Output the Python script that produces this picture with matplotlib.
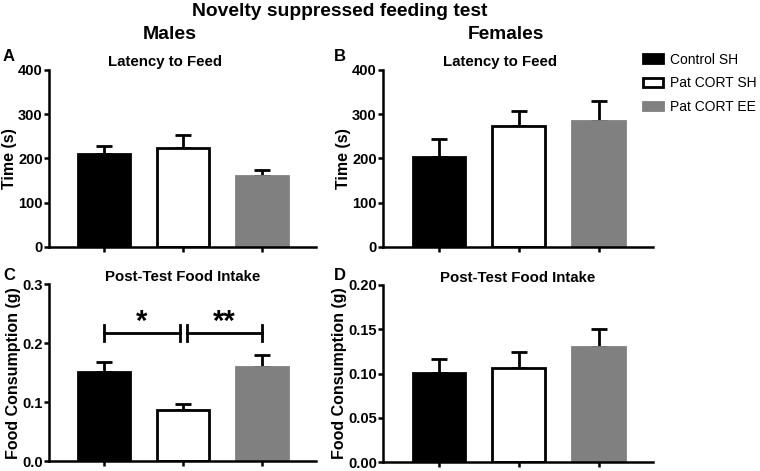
import matplotlib.pyplot as plt

plt.rcParams['font.family'] = ['Liberation Sans', 'DejaVu Sans']
plt.rcParams['font.weight'] = 'bold'

groups = ["Control SH", "Pat CORT SH", "Pat CORT EE"]
face_colors = ["black", "white", "#808080"]
edge_colors = ["black", "black", "#808080"]

# means and SEM (upper error only)
male_latency = [210, 224, 160]
male_latency_err = [19, 28, 14]
female_latency = [203, 273, 285]
female_latency_err = [42, 35, 45]
male_food = [0.152, 0.0865, 0.160]
male_food_err = [0.017, 0.011, 0.021]
female_food = [0.101, 0.106, 0.130]
female_food_err = [0.015, 0.018, 0.020]

fig = plt.figure(figsize=(7.6, 4.71), dpi=100)

def panel(rect, vals, errs, ymax, yticks, ylabel, title, fmt, title_x, title_pad):
    ax = fig.add_axes(rect)
    x = range(len(vals))
    for i in x:
        ax.bar(i, vals[i], width=0.66, color=face_colors[i], edgecolor=edge_colors[i],
               linewidth=2, zorder=2)
        ax.errorbar(i, vals[i], yerr=[[0], [errs[i]]], color="black", elinewidth=2,
                    capsize=5.5, capthick=2, zorder=1)
    ax.set_xlim(-0.70, 2.68)
    ax.set_ylim(0, ymax)
    ax.set_xticks(list(x))
    ax.set_xticklabels([])
    ax.set_yticks(yticks)
    ax.set_yticklabels([fmt.format(t) for t in yticks], fontsize=10.5, fontweight='bold')
    ax.set_ylabel(ylabel, fontsize=11.5, fontweight='bold', labelpad=1)
    ax.set_title(title, fontsize=10.8, fontweight='bold', x=title_x, pad=title_pad)
    for s in ["top", "right"]:
        ax.spines[s].set_visible(False)
    for s in ["left", "bottom"]:
        ax.spines[s].set_linewidth(1.8)
    ax.tick_params(width=1.8, length=3.5, direction='out', pad=1)
    return ax

axA = panel([0.0645, 0.4756, 0.3513, 0.3758], male_latency, male_latency_err, 400,
            [0, 100, 200, 300, 400], "Time (s)", "Latency to Feed", "{:.0f}", 0.434, 3)
axB = panel([0.504, 0.4756, 0.355, 0.3758], female_latency, female_latency_err, 400,
            [0, 100, 200, 300, 400], "Time (s)", "Latency to Feed", "{:.0f}", 0.433, 3)
axC = panel([0.0645, 0.0206, 0.3513, 0.3758], male_food, male_food_err, 0.3,
            [0, 0.1, 0.2, 0.3], "Food Consumption (g)", "Post-Test Food Intake", "{:.1f}", 0.5, -2)
axD = panel([0.504, 0.0185, 0.355, 0.3765], female_food, female_food_err, 0.2,
            [0, 0.05, 0.10, 0.15, 0.20], "Food Consumption (g)", "Post-Test Food Intake", "{:.2f}", 0.5, -2)

# panel letters
for lx, ly, letter in [(0.004, 0.879, "A"), (0.439, 0.879, "B"),
                       (0.004, 0.416, "C"), (0.439, 0.416, "D")]:
    fig.text(lx, ly, letter, ha='left', va='center', fontsize=12, fontweight='bold')

# significance brackets in panel C
sig = [(0, 0.955, "*"), (1.045, 2, "**")]
for x0, x1, mark in sig:
    axC.plot([x0, x1], [0.218, 0.218], color="black", lw=2)
    axC.plot([x0, x0], [0.2045, 0.2315], color="black", lw=2)
    axC.plot([x1, x1], [0.2045, 0.2315], color="black", lw=2)
    axC.text((x0 + x1) / 2, 0.212, mark, ha='center', va='bottom', fontsize=21, fontweight='bold')

fig.text(0.4474, 0.975, "Novelty suppressed feeding test", ha='center', va='center',
         fontsize=13.9, fontweight='bold')
fig.text(0.224, 0.926, "Males", ha='center', va='center', fontsize=14, fontweight='bold')
fig.text(0.666, 0.926, "Females", ha='center', va='center', fontsize=13.8, fontweight='bold')

# legend
handles = [plt.Rectangle((0, 0), 1, 1, facecolor=face_colors[i], edgecolor=edge_colors[i], linewidth=2)
           for i in range(3)]
fig.legend(handles, groups, loc='upper left', bbox_to_anchor=(0.829, 0.915), frameon=False,
           handlelength=1.45, handleheight=0.6, handletextpad=0.5, labelspacing=0.7,
           prop={'weight': 'normal', 'size': 10})

fig.savefig("out.png", dpi=100)
